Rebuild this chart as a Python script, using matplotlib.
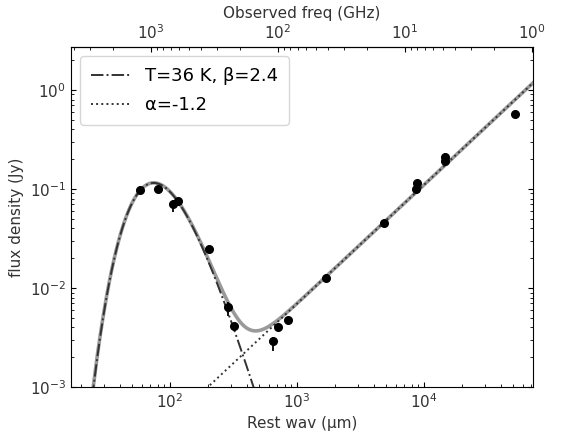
"""SED plot: modified blackbody + power law, rest wavelength vs flux density."""

import matplotlib
matplotlib.use("Agg")
import matplotlib.pyplot as plt
import numpy as np

# photometry (rest wavelength in micron, flux in Jy)
wav = [58, 81, 106, 116, 202, 285, 319, 646, 713, 853, 1690, 4800, 8650, 8850, 14600, 14700, 52100]
flux = [0.097, 0.100, 0.070, 0.076, 0.0248, 0.0064, 0.0041, 0.0029, 0.0040, 0.0048,
        0.0126, 0.0457, 0.099, 0.116, 0.192, 0.208, 0.57]
err_lo = [0, 0, 0.012, 0, 0, 0.0012, 0, 0.0006, 0, 0, 0, 0, 0, 0, 0, 0, 0]
err_hi = [0, 0, 0.004, 0, 0, 0.0008, 0, 0.0003, 0, 0, 0, 0, 0, 0, 0, 0.025, 0]

T_dust = 36.0
beta = 2.4
alpha = -1.2
z = 3.25
peak_flux = 0.115          # Jy, height of the greybody
pl_ref_wav, pl_ref_flux = 4800.0, 0.0457

hck = 14387.77  # h c / k in micron K


def greybody(lam):
    x = hck / (lam * T_dust)
    s = x ** (3 + beta) / np.expm1(x)
    xs = np.linspace(0.5, 20, 4000)
    smax = np.max(xs ** (3 + beta) / np.expm1(xs))
    return peak_flux * s / smax


def powerlaw(lam):
    return pl_ref_flux * (lam / pl_ref_wav) ** (-alpha)


def wav2freq(lam):
    return 299792.458 / (np.asarray(lam, dtype=float) * (1 + z))


def freq2wav(nu):
    return 299792.458 / (np.asarray(nu, dtype=float) * (1 + z))


lam = np.logspace(1.1, 5.0, 800)
mbb = greybody(lam)
pl = powerlaw(lam)

fig = plt.figure(figsize=(5.75, 4.37), dpi=100)
ax = fig.add_axes([0.1235, 0.1144, 0.8035, 0.7776])

ax.plot(lam, mbb + pl, color="#9a9a9a", lw=2.6, zorder=2)
ax.plot(lam, mbb, color="#333333", lw=1.4, ls="-.", label=f"T={T_dust:.0f} K, \u03b2={beta}", zorder=3)
ax.plot(lam, pl, color="#333333", lw=1.4, ls=":", label=f"\u03b1={alpha}", zorder=3)
ax.errorbar(wav, flux, yerr=[err_lo, err_hi], fmt="o", color="black", ms=5.5,
            elinewidth=1.3, capsize=0, zorder=4)

ax.set_xscale("log")
ax.set_yscale("log")
ax.set_xlim(16.6, 72000)
ax.set_ylim(1e-3, 2.7)
ax.set_xlabel("Rest wav (\u03bcm)", fontsize=11, color="#333333")
ax.set_ylabel("flux density (Jy)", fontsize=11, color="#333333")
ax.tick_params(which="both", direction="in", right=True, labelsize=11, labelcolor="#333333")

# parent is log, so the secondary axis picks a log-function scale by itself
sec = ax.secondary_xaxis("top", functions=(wav2freq, freq2wav))
sec.set_xlabel("Observed freq (GHz)", fontsize=11, color="#333333")
sec.tick_params(which="both", direction="in", labelsize=11, labelcolor="#333333")

leg = ax.legend(loc="upper left", fontsize=13, handlelength=2.2, borderpad=0.6, labelspacing=0.6)
leg.get_frame().set_edgecolor("#cccccc")

fig.savefig("out.png", dpi=100)
